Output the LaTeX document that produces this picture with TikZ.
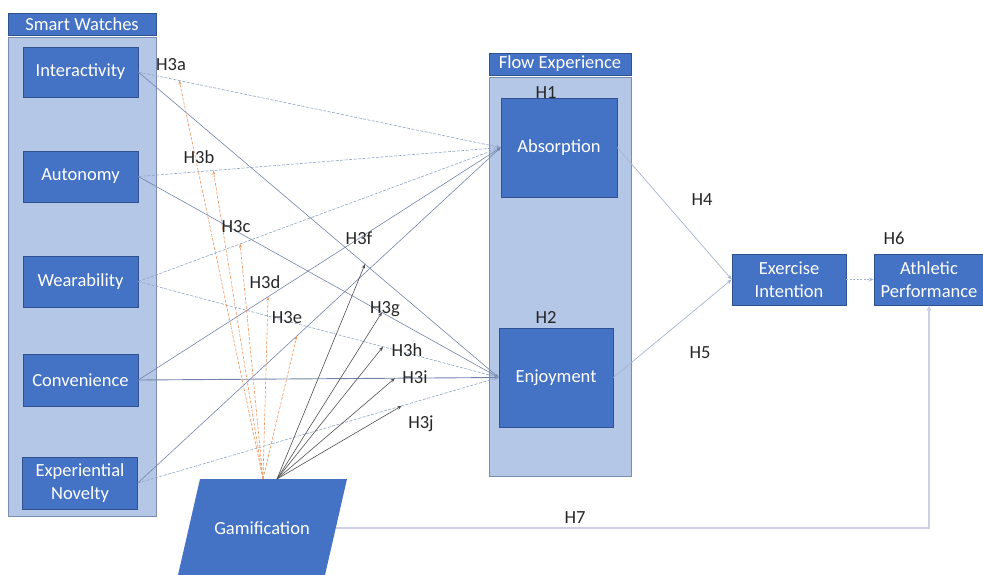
\documentclass[tikz,border=0pt]{standalone}
\usepackage{fontspec}
\setmainfont{Carlito}
\usetikzlibrary{arrows.meta,calc}
\definecolor{boxblue}{HTML}{4472C4}
\definecolor{boxedge}{HTML}{2F528F}
\definecolor{contfill}{HTML}{B4C7E7}
\definecolor{contedge}{HTML}{7A8DB0}
\definecolor{linkblue}{HTML}{8FA2C4}
\definecolor{linkslate}{HTML}{7383AA}
\definecolor{linkorange}{HTML}{EE955C}
\definecolor{linkdark}{HTML}{4F4F4F}
\definecolor{pale}{HTML}{CDCFE6}
\begin{document}
\begin{tikzpicture}[x=1pt,y=-1pt,font=\fontsize{18.5}{22}\selectfont,
  bluebox/.style={fill=boxblue,draw=boxedge,line width=0.6pt,text=white,align=center,inner sep=0pt},
  titlebar/.style={bluebox,minimum height=22pt},
  container/.style={fill=contfill,draw=contedge,line width=0.8pt,inner sep=0pt},
  lab/.style={text=black!85,inner sep=0pt,text height=0.65em,text depth=0pt},
  swline/.style={draw=linkblue,line width=0.6pt,-{Stealth[length=4pt,width=3pt]}},
  swsolid/.style={swline,draw=linkslate},
  swdash/.style={swline,dash pattern=on 3pt off 1.5pt},
  modorange/.style={draw=linkorange,line width=0.6pt,dash pattern=on 3pt off 1.5pt,-{Stealth[length=4pt,width=3pt]}},
  moddark/.style={draw=linkdark,line width=0.6pt,-{Stealth[length=4.5pt,width=3.5pt]}},
  flowlink/.style={draw=linkblue!80,line width=0.7pt,-{Stealth[length=5pt,width=4pt]}}]
\useasboundingbox (0,0) rectangle (983,574);

% containers
\node[container,minimum width=148pt,minimum height=479pt] (swc) at (82,276.5) {};
\node[titlebar,minimum width=148pt] (swt) at (82,24) {Smart Watches};
\node[container,minimum width=142pt,minimum height=399pt] (flc) at (560,276.5) {};
\node[titlebar,minimum width=142pt] (flt) at (560,64) {Flow Experience};

% smart watch boxes
\node[bluebox,minimum width=115pt,minimum height=50pt] (inter) at (80.5,72) {Interactivity};
\node[bluebox,minimum width=115pt,minimum height=51pt] (auto) at (80.5,176.5) {Autonomy};
\node[bluebox,minimum width=115pt,minimum height=51pt] (wear) at (80.5,281.5) {Wearability};
\node[bluebox,minimum width=115pt,minimum height=52pt] (conv) at (80.5,380) {Convenience};
\node[bluebox,minimum width=115pt,minimum height=52pt,execute at begin node=\setlength{\baselineskip}{23pt}] (expn) at (80,483) {Experiential\\Novelty};

% flow boxes
\node[bluebox,minimum width=116pt,minimum height=99pt] (abs) at (559,147.5) {Absorption};
\node[bluebox,minimum width=114pt,minimum height=99pt] (enj) at (556,377.5) {Enjoyment};

% outcome boxes
\node[bluebox,minimum width=114pt,minimum height=51pt,execute at begin node=\setlength{\baselineskip}{23pt}] (exi) at (789,279.5) {Exercise\\Intention};
\node[bluebox,minimum width=110pt,minimum height=51pt,execute at begin node=\setlength{\baselineskip}{23pt}] (ath) at (929,279.5) {Athletic\\Performance};

% gamification
\fill[boxblue] (200,479) -- (347,479) -- (325,575) -- (178,575) -- cycle;
\node[text=white,inner sep=0pt] (gam) at (262,528) {Gamification};
\coordinate (gO) at (263,479);
\coordinate (gD) at (277,479);
\coordinate (gR) at (336,528);

% smart watch -> flow links
\draw[swdash] (inter.east) -- (abs.west);
\draw[swsolid] (inter.east) -- (enj.west);
\draw[swdash] (auto.east) -- (abs.west);
\draw[swsolid] (auto.east) -- (enj.west);
\draw[swdash] (wear.east) -- (abs.west);
\draw[swdash] (wear.east) -- (enj.west);
\draw[swsolid] (conv.east) -- (abs.west);
\draw[swsolid,line width=0.9pt] (conv.east) -- (enj.west);
\draw[swsolid] (expn.east) -- (abs.west);
\draw[swdash] (expn.east) -- (enj.west);

% moderation targets
\coordinate (t3a) at ($(inter.east)!0.113!(abs.west)$);
\coordinate (t3b) at ($(auto.east)!0.207!(abs.west)$);
\coordinate (t3c) at ($(wear.east)!0.281!(abs.west)$);
\coordinate (t3d) at ($(conv.east)!0.358!(abs.west)$);
\coordinate (t3e) at ($(expn.east)!0.438!(abs.west)$);
\coordinate (t3f) at ($(inter.east)!0.629!(enj.west)$);
\coordinate (t3g) at ($(auto.east)!0.676!(enj.west)$);
\coordinate (t3h) at ($(wear.east)!0.679!(enj.west)$);
\coordinate (t3i) at ($(conv.east)!0.712!(enj.west)$);
\coordinate (t3j) at ($(expn.east)!0.731!(enj.west)$);

\foreach \t in {a,b,c,d,e} \draw[modorange] (gO) -- (t3\t);
\foreach \t in {f,g,h,i,j} \draw[moddark] (gD) -- (t3\t);

% flow -> outcomes
\draw[flowlink] (abs.east) -- (exi.west);
\draw[flowlink] (enj.east) -- (exi.west);
\draw[flowlink,dash pattern=on 2pt off 1.5pt] (exi.east) -- (ath.west);
\draw[draw=pale,line width=1.6pt,-{Stealth[length=6pt,width=5pt]}] (gR) -| (ath.south);

% labels
\node[lab] (l3a) at (171,67) {H3a};
\node[lab] (l3b) at (199,160) {H3b};
\node[lab] (l3c) at (236,229) {H3c};
\node[lab] (l3d) at (265,285) {H3d};
\node[lab] (l3e) at (287,320) {H3e};
\node[lab] (l3f) at (359,241) {H3f};
\node[lab] (l3g) at (385,310) {H3g};
\node[lab] (l3h) at (407,353) {H3h};
\node[lab] (l3i) at (415,380) {H3i};
\node[lab] (l3j) at (421,425) {H3j};
\node[lab] (lh1) at (546,95) {H1};
\node[lab] (lh2) at (546,320) {H2};
\node[lab] (lh4) at (702,202) {H4};
\node[lab] (lh5) at (700,355) {H5};
\node[lab] (lh6) at (894,241) {H6};
\node[lab] (lh7) at (575,520) {H7};
\end{tikzpicture}
\end{document}
